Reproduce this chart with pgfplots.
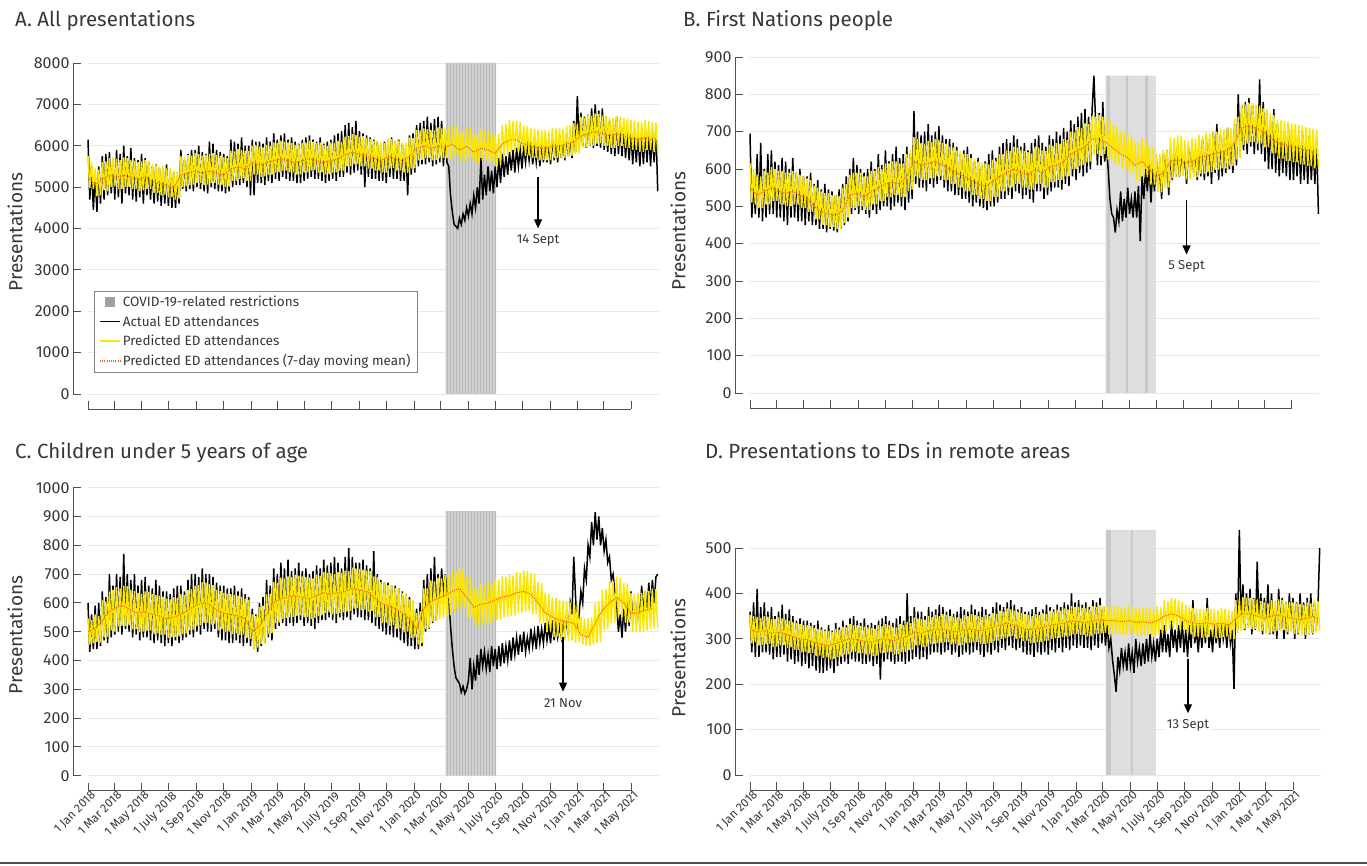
\documentclass[border=0pt]{standalone}
\usepackage{fontspec}
\setmainfont{Fira Sans}
\usepackage{pgfplots}
\pgfplotsset{compat=1.18}
\usepackage{pgfplotstable}
\usetikzlibrary{arrows.meta,patterns}
\definecolor{predy}{RGB}{250,230,0}
\definecolor{mavg}{RGB}{238,95,35}
\definecolor{gridc}{RGB}{232,232,232}
\definecolor{axc}{RGB}{80,80,80}
\definecolor{txt}{RGB}{55,55,55}
\definecolor{shadeA}{RGB}{208,208,208}
\definecolor{stripeA}{RGB}{186,186,186}
\definecolor{shadeB}{RGB}{222,222,222}
\definecolor{stripeB}{RGB}{200,200,200}
\definecolor{legsq}{RGB}{160,160,160}
\definecolor{legbd}{RGB}{130,130,130}

\tikzset{
 annot/.style={black, line width=1.2pt, -{Triangle[length=9pt,width=8pt]}},
 annlabel/.style={font=\fontsize{13}{15}\selectfont, text=txt, fill=white, inner sep=2pt},
}
\pgfplotsset{
 panel/.style={
  scale only axis, clip=false,
  xmin=0, xmax=1278, ymin=0,
  axis x line=bottom, axis y line=left,
  axis x line shift=15pt, axis y line shift=15pt,
  x axis line style={draw=none}, y axis line style={draw=none},
  tick align=inside, major tick length=8pt,
  every tick/.style={axc, line width=0.8pt},
  xtick={0,59,120,181,243,304,365,424,485,546,608,669,730,790,851,912,974,1035,1096,1155,1216},
  ymajorgrids, major grid style={gridc, line width=0.8pt},
  tick label style={font=\fontsize{16}{19}\selectfont, text=txt},
  /pgf/number format/assume math mode=true,
  /pgf/number format/1000 sep={},
  scaled y ticks=false,
  legend image code/.code={\draw[##1] (0pt,0pt) -- (20pt,0pt);},
 },
 datelabels/.style={
  xticklabels={1 Jan 2018, 1 Mar 2018, 1 May 2018, 1 July 2018, 1 Sep 2018, 1 Nov 2018, 1 Jan 2019, 1 Mar 2019, 1 May 2019, 1 July 2019, 1 Sep 2019, 1 Nov 2019, 1 Jan 2020, 1 Mar 2020, 1 May 2020, 1 July 2020, 1 Sep 2020, 1 Nov 2020, 1 Jan 2021, 1 Mar 2021, 1 May 2021},
  xticklabel style={rotate=45, anchor=north east, font=\fontsize{12}{14}\selectfont, inner sep=1pt, xshift=3pt},
 },
 blackline/.style={black, line width=1.5pt},
 yellowline/.style={predy, line width=1.5pt},
 orangeline/.style={mavg, line width=1.1pt, dash pattern=on 1pt off 1.2pt},
}

\pgfplotstableread{
p a
5750 6150
4980 4700
5600 5500
4950 4450
5450 5300
4780 4400
5420 5500
4800 4600
5600 5750
4920 4700
5620 5800
4900 4800
5700 5850
5000 4850
5720 5700
5020 4700
5680 5900
4960 4750
5650 5800
4950 4600
5720 6000
5000 4850
5700 5750
5000 4800
5660 5950
4950 4700
5640 5700
4960 4650
5600 5650
4900 4750
5620 5800
4920 4600
5650 5700
4950 4800
5640 5600
4960 4700
5550 5500
4860 4600
5540 5550
4850 4650
5500 5450
4800 4550
5520 5500
4820 4600
5450 5550
4750 4550
5460 5400
4760 4500
5400 5350
4700 4500
5380 5250
4720 4600
5750 5900
5000 4950
5720 5650
5020 4900
5780 5800
5050 4950
5760 5900
5060 4900
5820 5900
5100 5000
5800 6000
5100 4950
5760 5850
5050 4900
5780 5800
5060 4850
5800 6100
5100 5000
5820 6050
5100 4950
5780 5900
5060 4900
5760 5850
5050 4900
5720 5800
5000 4850
5700 5750
5010 4900
5880 6150
5150 5000
5860 6100
5160 5050
5920 6050
5200 5050
5900 6200
5210 5100
5880 6000
5150 5000
5870 6000
5150 4800
6000 6150
5300 4800
6020 6100
5300 5100
5980 6100
5250 5100
5960 6050
5260 5050
6020 6200
5300 5150
6000 6100
5300 5100
6080 6300
5350 5200
6060 6150
5360 5150
6120 6250
5400 5250
6100 6300
5400 5200
6080 6150
5360 5150
6060 6200
5350 5150
6020 6100
5300 5100
6030 6050
5310 5100
6060 6150
5350 5150
6080 6200
5360 5200
6120 6250
5400 5250
6100 6150
5410 5200
6060 6100
5350 5200
6080 6200
5360 5150
6020 6050
5300 5100
6000 6100
5310 5150
6080 6150
5350 5200
6060 6250
5360 5150
6120 6300
5400 5250
6100 6350
5400 5250
6220 6500
5500 5350
6230 6550
5500 5300
6280 6450
5550 5350
6260 6600
5560 5400
6220 6350
5500 5300
6230 6300
5500 5000
6180 6250
5450 5250
6160 6200
5450 5200
6120 6150
5400 5200
6130 6100
5400 5150
6080 6050
5350 5150
6070 6100
5350 5100
6180 6150
5450 5250
6160 6200
5460 5200
6130 6100
5400 5200
6120 6150
5400 5150
6080 6050
5350 5150
6070 6000
5340 4800
6200 6250
5450 5300
6180 6300
5460 5350
6380 6500
5650 5500
6370 6550
5660 5550
6420 6600
5700 5550
6400 6700
5700 5600
6380 6550
5650 5500
6370 6650
5660 5550
6440 6700
5700 5600
6420 6600
5700 5500
6440 6300
5700 5600
6420 5500
5680 4800
6480 4400
5750 4100
6470 4050
5760 4000
6350 4250
5600 4100
6330 4350
5620 4200
6450 4500
5700 4300
6430 4600
5720 4350
6300 4800
5550 4500
6280 5000
5560 4600
6400 5700
5650 4700
6380 5300
5660 4800
6350 5500
5600 4900
6320 5400
5580 4850
6260 5500
5500 5000
6280 5700
5540 5100
6500 5800
5750 5250
6520 5750
5760 5300
6620 5850
5850 5400
6600 5900
5860 5350
6600 5950
5850 5500
6580 5900
5860 5450
6480 6000
5750 5600
6470 6050
5760 5650
6420 6100
5700 5550
6410 6000
5700 5600
6380 6050
5650 5500
6370 6100
5660 5600
6380 6150
5650 5600
6360 6100
5650 5550
6430 6200
5700 5650
6410 6150
5710 5600
6420 6250
5700 5700
6400 6200
5700 5650
6480 6300
5750 5750
6470 6250
5760 5700
6540 6600
5800 5850
6520 7200
5810 6000
6700 6800
5950 6000
6680 6700
5960 5950
6740 6750
6000 6000
6720 6900
6000 5950
6780 7000
6050 6000
6770 6850
6060 5950
6730 6900
6000 5900
6710 6700
6000 5850
6680 6600
5950 5800
6660 6650
5950 5750
6720 6700
6000 5800
6700 6500
6000 5750
6680 6450
5950 5700
6660 6400
5950 5650
6620 6350
5900 5550
6610 6300
5900 5600
6580 6250
5850 5500
6570 6300
5850 5550
6620 6400
5900 5600
6600 6350
5900 5500
6580 6300
5850 5600
6560 6450
5850 4900
}\tA

\pgfplotstableread{
m
5240
5040
5190
5290
5240
5290
5240
5190
5240
5140
5090
5040
4990
5290
5340
5390
5340
5390
5340
5290
5440
5490
5440
5590
5540
5590
5640
5690
5640
5590
5640
5690
5640
5590
5640
5690
5790
5840
5790
5740
5690
5640
5740
5690
5640
5740
5940
5990
5940
5990
5960
6040
5890
5990
5840
5940
5890
5820
6040
6140
6140
6040
5990
5940
5940
5990
5990
6040
6090
6240
6290
6340
6290
6240
6290
6240
6190
6140
6190
6140
}\mA

\pgfplotstableread{
p a
615 695
510 470
600 560
505 480
585 640
495 470
580 670
495 460
595 600
505 470
590 640
505 480
605 650
515 480
600 620
515 470
595 610
505 470
595 630
505 460
590 620
500 450
590 600
500 470
595 630
505 470
590 590
505 460
585 600
495 460
580 580
495 450
575 580
485 460
570 590
485 450
555 560
465 450
550 570
465 440
540 545
450 440
535 560
450 430
535 545
445 440
530 540
445 435
530 530
440 430
528 545
440 440
550 560
455 450
560 580
470 460
585 600
495 480
590 630
495 490
590 610
500 480
590 600
500 490
580 590
490 480
580 600
490 470
595 620
505 490
595 600
505 480
605 640
515 490
600 610
515 500
615 650
525 500
615 620
525 490
620 640
530 500
620 660
530 510
615 630
525 500
615 640
525 490
640 660
540 510
650 640
545 520
685 755
580 560
680 700
575 550
670 690
570 550
668 700
570 540
675 720
575 560
672 690
575 550
680 700
580 560
678 715
580 570
670 690
570 550
668 680
570 540
660 680
560 540
658 670
560 530
650 660
550 530
648 640
550 520
640 650
540 520
640 660
540 510
630 640
530 500
628 620
530 510
620 630
520 500
618 610
520 495
615 620
515 490
612 640
515 500
625 650
525 500
622 630
525 510
640 660
540 520
640 670
540 520
650 680
550 530
648 670
550 520
660 690
560 540
658 680
560 535
650 660
550 520
648 670
550 530
645 650
545 520
642 670
545 510
660 680
560 540
658 690
560 540
650 670
550 520
648 660
550 530
665 690
565 540
662 680
565 550
670 700
570 550
668 690
570 545
680 710
580 560
678 700
580 555
700 730
600 580
698 720
600 570
712 740
608 590
710 750
610 580
722 760
618 590
720 740
620 600
742 760
638 850
740 720
640 610
745 750
635 610
740 780
640 620
735 660
625 600
730 520
625 480
718 470
612 430
715 490
612 460
702 540
598 460
700 520
598 470
692 550
588 480
690 520
588 470
672 540
568 470
670 555
568 407
682 580
578 520
680 600
578 540
662 620
558 510
660 600
558 540
642 630
538 540
640 620
538 520
652 640
548 560
650 650
550 530
685 650
575 570
682 660
578 580
690 660
580 580
688 650
582 590
678 640
572 560
676 660
572 590
682 660
578 590
680 650
578 570
692 670
588 580
690 680
588 570
698 690
592 580
696 680
592 560
702 700
598 590
700 720
598 570
708 690
602 580
706 700
602 590
712 710
608 600
710 690
608 590
735 720
625 610
740 800
630 640
775 770
665 650
772 780
668 640
778 790
672 660
776 770
672 640
772 760
668 650
770 840
668 640
762 780
658 620
760 750
658 600
748 730
642 600
745 760
642 590
732 720
628 580
730 700
628 590
728 700
622 580
726 720
622 570
722 700
618 570
720 690
618 580
718 690
612 560
716 700
612 570
712 680
608 560
710 690
608 570
708 670
602 560
706 680
602 480
}\tB

\pgfplotstableread{
m
550
530
540
550
540
535
540
530
520
500
485
480
475
490
530
535
525
540
550
560
565
560
580
620
610
615
620
610
600
590
580
570
560
555
565
580
590
600
590
585
600
590
605
610
620
640
650
660
680
680
670
655
640
630
610
620
600
580
590
620
625
615
620
630
635
640
645
650
670
710
715
710
700
685
670
665
660
655
650
645
}\mB

\pgfplotstableread{
p a
545 600
455 430
540 560
460 440
560 590
465 440
555 600
462 450
610 640
480 470
605 620
482 460
640 700
505 480
645 660
500 490
655 700
518 500
650 690
520 490
660 770
520 510
658 700
522 500
645 680
508 480
642 700
510 490
635 660
498 470
632 680
500 480
640 690
502 480
638 660
504 470
630 650
492 460
628 680
494 470
625 660
488 460
622 640
490 450
615 640
478 460
612 630
480 450
620 650
482 470
618 660
484 460
630 660
492 470
628 640
494 480
645 680
505 490
648 700
507 480
660 700
520 500
662 690
522 490
672 720
530 510
670 700
532 500
665 700
525 500
662 690
528 510
645 670
505 480
642 660
508 470
635 660
498 470
632 650
500 460
630 650
492 460
628 660
494 470
625 640
488 460
622 650
490 450
615 630
478 460
610 620
475 450
560 580
440 440
555 560
445 430
585 600
458 450
590 620
460 460
630 680
492 480
632 660
494 470
672 720
530 510
670 700
532 520
688 740
545 530
685 720
547 520
692 750
550 530
690 710
552 520
698 720
555 530
695 740
557 540
692 710
550 520
690 720
552 530
688 700
545 520
685 710
547 510
698 730
555 530
695 720
557 540
708 750
565 540
705 730
567 550
702 740
560 540
700 760
562 530
708 740
565 550
705 720
567 540
712 760
570 550
710 790
572 540
722 760
580 560
720 740
582 550
718 740
575 550
715 750
577 540
712 730
570 540
710 720
572 530
692 780
550 520
690 700
552 510
672 680
530 500
670 670
532 490
662 670
520 490
660 660
522 480
652 660
510 480
650 650
512 470
635 640
498 460
632 630
500 450
612 620
478 450
610 600
480 440
565 580
455 440
570 600
460 450
650 680
510 500
652 700
512 510
678 720
535 530
675 760
537 540
688 700
545 580
685 720
547 620
698 700
555 640
695 620
557 520
712 440
570 380
710 340
572 330
722 320
580 290
718 310
582 285
692 300
550 330
690 409
552 300
655 380
518 330
652 420
520 350
665 440
525 380
662 430
528 370
672 420
530 360
670 450
532 380
682 440
540 370
680 450
542 380
692 460
550 390
690 450
552 400
698 470
555 400
695 480
557 420
708 480
565 420
705 490
567 430
712 500
570 430
710 480
572 440
702 510
560 450
700 500
562 440
672 520
530 460
668 510
532 460
635 530
498 470
632 520
500 460
620 540
482 470
618 530
484 480
610 520
472 480
608 540
474 490
605 540
468 490
602 600
470 560
598 760
462 620
595 510
464 560
550 640
455 600
545 720
452 680
545 800
450 760
550 880
455 800
600 915
462 820
605 900
465 800
645 860
505 780
648 820
507 740
672 760
530 680
675 700
532 640
692 600
550 500
688 560
552 480
670 580
530 500
668 620
532 520
635 640
498 540
632 600
500 530
635 620
498 530
635 660
500 560
645 640
505 560
642 670
508 580
650 680
512 600
648 690
514 700
}\tC

\pgfplotstableread{
m
500
510
540
570
585
590
575
565
570
560
555
545
550
560
575
590
600
595
575
565
560
555
545
500
520
560
600
615
620
625
620
615
625
635
630
635
640
650
645
640
620
600
590
580
565
545
510
580
605
615
625
640
650
620
585
595
600
610
620
625
635
640
630
600
565
550
540
535
528
490
480
530
574
600
620
600
565
565
575
580
}\mC

\pgfplotstableread{
p a
352 360
290 270
350 380
292 260
348 410
285 260
346 370
286 270
350 380
288 270
349 360
289 265
344 370
282 255
343 350
283 260
347 360
285 260
345 375
286 265
342 355
280 250
340 365
281 255
337 350
275 245
335 340
276 250
332 345
270 240
330 340
271 245
330 340
268 235
328 335
269 240
324 330
262 230
322 340
263 225
320 325
258 225
318 320
259 230
317 330
255 235
315 318
256 225
322 335
260 240
320 325
261 245
327 340
265 250
325 330
266 245
332 345
270 255
330 350
271 250
330 340
268 250
328 335
269 245
327 345
265 245
325 330
266 250
324 335
262 240
322 330
263 245
330 340
268 210
328 345
269 250
332 350
270 255
330 340
271 250
327 335
265 245
325 345
266 250
332 350
270 250
330 340
271 245
337 400
275 250
335 350
276 255
347 370
285 260
345 360
286 255
344 360
282 260
342 350
283 255
350 370
288 265
348 360
289 270
352 365
290 270
350 375
291 265
354 370
292 270
352 360
293 275
350 365
288 265
348 355
289 270
347 360
285 260
345 370
286 265
352 365
290 270
350 360
291 265
354 375
292 270
352 365
293 275
350 360
288 265
348 370
289 260
352 365
290 270
350 355
291 265
357 370
295 275
355 380
296 270
362 375
300 280
360 370
301 275
367 380
305 285
365 385
306 280
362 375
300 275
360 365
301 280
357 370
295 270
355 360
296 265
352 360
290 265
350 365
291 260
354 370
292 270
352 360
293 265
357 365
295 270
355 375
296 265
362 370
300 275
360 365
301 270
364 375
302 280
362 370
303 270
367 380
305 280
365 375
306 275
372 400
310 285
370 380
311 280
370 385
308 285
368 375
309 280
367 380
305 280
365 370
306 275
372 385
310 285
370 380
311 280
374 390
312 290
372 370
313 285
372 330
310 280
370 300
311 253
372 220
310 183
370 260
311 230
370 280
308 240
368 270
309 230
372 290
310 240
370 270
311 225
368 300
306 250
366 280
307 240
370 290
308 245
368 300
309 250
367 310
305 260
365 290
306 250
372 300
310 260
370 320
311 270
385 330
318 270
382 310
320 260
390 340
322 280
388 320
324 270
385 330
318 280
382 340
320 270
374 320
308 260
372 330
310 280
368 385
304 290
366 320
305 270
366 330
302 280
364 340
303 290
368 390
304 280
366 320
305 270
365 340
301 290
363 330
302 280
368 350
304 300
366 330
305 280
363 340
299 290
361 320
300 190
385 400
312 320
388 540
318 330
392 420
322 320
390 400
323 330
390 410
321 310
388 390
322 320
385 470
316 330
383 400
317 310
380 390
311 320
378 420
312 310
385 400
316 310
383 380
317 300
387 410
318 320
385 390
319 300
383 380
314 310
381 400
315 320
380 390
311 300
378 380
312 310
377 400
308 320
375 380
309 300
380 390
311 310
378 400
312 310
385 380
316 320
383 370
317 500
}\tD

\pgfplotstableread{
m
320
315
318
312
315
310
305
300
298
292
288
285
290
295
300
298
295
292
298
300
295
300
305
315
312
318
320
322
318
315
320
322
318
320
325
330
335
330
325
320
322
325
330
332
335
340
338
335
340
342
340
340
338
340
336
338
335
340
350
355
350
340
335
333
335
332
335
330
345
356
355
350
345
350
352
348
345
342
345
350
}\mD

\begin{document}
\begin{tikzpicture}[x=1pt,y=1pt]
\path[use as bounding box] (0pt,0pt) rectangle (1367pt,866pt);

% ---------------- Panel A ----------------
\begin{axis}[panel, at={(88pt,472pt)}, anchor=south west, width=570.6pt, height=331pt,
  ymax=8000, ytick={0,1000,2000,3000,4000,5000,6000,7000,8000}, xticklabels={},
  legend cell align=left,
  legend style={at={(0.0105,0.311)}, anchor=north west, draw=legbd, line width=0.6pt, fill=white,
    font=\fontsize{13.5}{15}\selectfont, text=txt, inner xsep=5pt, inner ysep=3pt, row sep=3.5pt}]
\addplot[fill=shadeA, draw=none, legend image code/.code={\fill[legsq] (5pt,-5pt) rectangle (15pt,5pt);}]
  coordinates {(801,0) (801,8000) (914,8000) (914,0)} \closedcycle;
\addlegendentry{COVID-19-related restrictions}
\addplot[pattern=vertical lines, pattern color=stripeA, draw=none, forget plot]
  coordinates {(801,0) (801,8000) (914,8000) (914,0)} \closedcycle;
\addplot[blackline] table[x expr=\coordindex*4, y=a]{\tA};
\addlegendentry{Actual ED attendances}
\addplot[yellowline] table[x expr=\coordindex*4, y=p]{\tA};
\addlegendentry{Predicted ED attendances}
\addplot[orangeline] table[x expr=\coordindex*16, y=m]{\mA};
\addlegendentry{Predicted ED attendances (7-day moving mean)}
\draw[axc, line width=0.9pt] ([xshift=-15pt]axis cs:0,0) -- ([xshift=-15pt]axis cs:0,8000);
\draw[axc, line width=0.9pt] ([yshift=-15pt]axis cs:0,0) -- ([yshift=-15pt]axis cs:1216,0);
\draw[annot] (axis cs:1008,5250) -- (axis cs:1008,4005);
\node[annlabel] at (axis cs:1008,3720) {14 Sept};
\end{axis}

% ---------------- Panel B ----------------
\begin{axis}[panel, at={(750pt,473pt)}, anchor=south west, width=569.3pt, height=336pt,
  ymax=900, ytick={0,100,200,300,400,500,600,700,800,900}, xticklabels={}]
\addplot[fill=shadeB, draw=none] coordinates {(798,0) (798,850) (911,850) (911,0)} \closedcycle;
\addplot[fill=stripeB, draw=none] coordinates {(801,0) (801,850) (808,850) (808,0)} \closedcycle;
\addplot[fill=stripeB, draw=none] coordinates {(844,0) (844,850) (849,850) (849,0)} \closedcycle;
\addplot[fill=stripeB, draw=none] coordinates {(887,0) (887,850) (893,850) (893,0)} \closedcycle;
\addplot[blackline] table[x expr=\coordindex*4, y=a]{\tB};
\addplot[yellowline] table[x expr=\coordindex*4, y=p]{\tB};
\addplot[orangeline] table[x expr=\coordindex*16, y=m]{\mB};
\draw[axc, line width=0.9pt] ([xshift=-15pt]axis cs:0,0) -- ([xshift=-15pt]axis cs:0,900);
\draw[axc, line width=0.9pt] ([yshift=-15pt]axis cs:0,0) -- ([yshift=-15pt]axis cs:1216,0);
\draw[annot] (axis cs:980,516) -- (axis cs:980,371);
\node[annlabel] at (axis cs:980,340) {5 Sept};
\end{axis}

% ---------------- Panel C ----------------
\begin{axis}[panel, datelabels, at={(88pt,90.3pt)}, anchor=south west, width=570.6pt, height=288pt,
  ymax=1000, ytick={0,100,200,300,400,500,600,700,800,900,1000}]
\addplot[fill=shadeA, draw=none] coordinates {(801,0) (801,919) (914,919) (914,0)} \closedcycle;
\addplot[pattern=vertical lines, pattern color=stripeA, draw=none]
  coordinates {(801,0) (801,919) (914,919) (914,0)} \closedcycle;
\addplot[blackline] table[x expr=\coordindex*4, y=a]{\tC};
\addplot[yellowline] table[x expr=\coordindex*4, y=p]{\tC};
\addplot[orangeline] table[x expr=\coordindex*16, y=m]{\mC};
\draw[axc, line width=0.9pt] ([xshift=-15pt]axis cs:0,0) -- ([xshift=-15pt]axis cs:0,1000);
\draw[axc, line width=0.9pt] ([yshift=-15pt]axis cs:0,0) -- ([yshift=-15pt]axis cs:1216,0);
\draw[annot] (axis cs:1064,483) -- (axis cs:1064,292);
\node[annlabel] at (axis cs:1064,252) {21 Nov};
\end{axis}

% ---------------- Panel D ----------------
\begin{axis}[panel, datelabels, at={(750pt,91pt)}, anchor=south west, width=570.6pt, height=247.4pt,
  ymax=545, ytick={0,100,200,300,400,500}]
\addplot[fill=shadeB, draw=none] coordinates {(797,0) (797,540) (909,540) (909,0)} \closedcycle;
\addplot[fill=stripeB, draw=none] coordinates {(797,0) (797,540) (808,540) (808,0)} \closedcycle;
\addplot[fill=stripeB, draw=none] coordinates {(853,0) (853,540) (857,540) (857,0)} \closedcycle;
\addplot[blackline] table[x expr=\coordindex*4, y=a]{\tD};
\addplot[yellowline] table[x expr=\coordindex*4, y=p]{\tD};
\addplot[orangeline] table[x expr=\coordindex*16, y=m]{\mD};
\draw[axc, line width=0.9pt] ([xshift=-15pt]axis cs:0,0) -- ([xshift=-15pt]axis cs:0,500);
\draw[axc, line width=0.9pt] ([yshift=-15pt]axis cs:0,0) -- ([yshift=-15pt]axis cs:1216,0);
\draw[annot] (axis cs:981,255) -- (axis cs:981,136);
\node[annlabel] at (axis cs:981,110) {13 Sept};
\end{axis}

% titles and labels
\node[anchor=base west, inner sep=0, font=\fontsize{20.5}{24}\selectfont, text=txt] at (15pt,839.3pt) {A. All presentations};
\node[anchor=base west, inner sep=0, font=\fontsize{20.5}{24}\selectfont, text=txt] at (683pt,839.3pt) {B. First Nations people};
\node[anchor=base west, inner sep=0, font=\fontsize{20.5}{24}\selectfont, text=txt] at (15pt,407.7pt) {C. Children under 5 years of age};
\node[anchor=base west, inner sep=0, font=\fontsize{20.5}{24}\selectfont, text=txt] at (705pt,407.7pt) {D. Presentations to EDs in remote areas};
\node[rotate=90, font=\fontsize{19}{21}\selectfont, text=txt] at (15pt,634pt) {Presentations};
\node[rotate=90, font=\fontsize{19}{21}\selectfont, text=txt] at (678pt,635pt) {Presentations};
\node[rotate=90, font=\fontsize{19}{21}\selectfont, text=txt] at (15pt,231pt) {Presentations};
\node[rotate=90, font=\fontsize{19}{21}\selectfont, text=txt] at (678pt,208pt) {Presentations};
\draw[line width=2.5pt, axc] (0pt,3pt) -- (1367pt,3pt);
\end{tikzpicture}
\end{document}
